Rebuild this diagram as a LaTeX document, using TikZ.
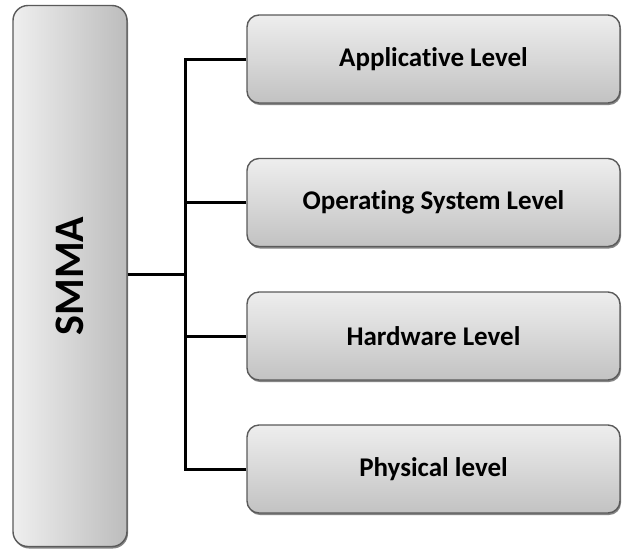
\documentclass[tikz,border=0pt]{standalone}
\usepackage{fontspec}
\setmainfont[Ligatures=NoCommon]{Carlito}
\usepackage{tikz}
\usetikzlibrary{positioning,shadows}
\definecolor{boxtop}{HTML}{EEEEEE}
\definecolor{boxbot}{HTML}{C2C2C2}
\definecolor{boxline}{HTML}{5A5A5A}
\tikzset{
    %Define style for the level boxes
    levelrect/.style={
           rectangle,
           rounded corners=12pt,
           draw=boxline, line width=1.4pt,
           minimum width=373pt,
           minimum height=88pt,
           font=\fontsize{27}{30}\selectfont\bfseries,
           text centered,
           top color=boxtop, bottom color=boxbot,
           drop shadow={shadow xshift=1pt, shadow yshift=-2pt,
                        fill=black!60, opacity=.8}
           },
    %Define style for the tall box
    mainrect/.style={
           rectangle,
           rounded corners=15pt,
           draw=boxline, line width=1.4pt,
           minimum width=114pt,
           minimum height=541pt,
           font=\fontsize{42}{46}\selectfont\bfseries,
           text centered,
           left color=boxtop!95!white, right color=boxbot!97!black,
           drop shadow={shadow xshift=1pt, shadow yshift=-2pt,
                        fill=black!60, opacity=.8}
           },
    % Define line style
    link/.style={
           line width=3pt,
           black}
}
\begin{document}
\begin{tikzpicture}[x=1pt,y=-1pt]
\useasboundingbox (0,0) rectangle (626,550);

 %nodes
\node[mainrect] (smma) at (70,276) {\rotatebox{90}{SMMA}};
\node[levelrect] (app) at (433.5,59) {Applicative Level};
\node[levelrect] (os)  at (433.5,202.5) {Operating System Level};
\node[levelrect] (hw)  at (433.5,336) {Hardware Level};
\node[levelrect] (phy) at (433.5,469) {Physical level};
\coordinate (hub) at (185,274);

 %links
\draw[link] (smma.east |- hub) -- (hub);
\foreach \n in {app,os,hw,phy}
    \draw[link] (\n.west) -| (hub);

\end{tikzpicture}
\end{document}
